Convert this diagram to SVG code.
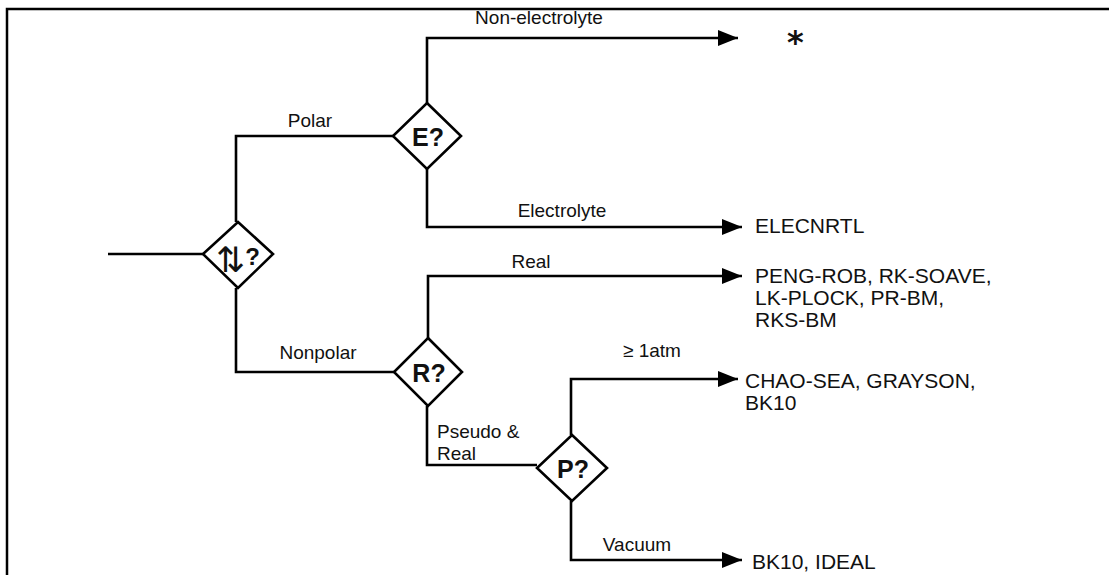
<svg xmlns="http://www.w3.org/2000/svg" width="1109" height="575" viewBox="0 0 1109 575">
<style>
.ln{fill:none;stroke:#000;stroke-width:2.6}
.dm{fill:#fff;stroke:#000;stroke-width:2.6}
.lb{font-family:"Liberation Sans",Arial,sans-serif;font-size:19px;fill:#111}
.out{font-family:"Liberation Sans",Arial,sans-serif;font-size:21px;fill:#111}
.dt{font-family:"Liberation Sans",Arial,sans-serif;font-size:25px;font-weight:bold;fill:#111;text-anchor:middle}
</style>
<defs>
<marker id="ah" markerUnits="userSpaceOnUse" markerWidth="22" markerHeight="18" refX="20" refY="8" orient="auto">
<path d="M0,0 L20,8 L0,16 Z" fill="#000"/>
</marker>
</defs>
<rect width="1109" height="575" fill="#fff"/>
<g id="frame">
<path d="M7,575 V9 H1109" fill="none" stroke="#000" stroke-width="2.5"/>
</g>
<g id="connectors">
<path class="ln" d="M108,254 H203"/>
<path class="ln" d="M236,222 V136 H393"/>
<path class="ln" d="M427,103 V38 H738" marker-end="url(#ah)"/>
<path class="ln" d="M427,169 V227 H742" marker-end="url(#ah)"/>
<path class="ln" d="M236,288 V372 H394"/>
<path class="ln" d="M428,338 V276 H742" marker-end="url(#ah)"/>
<path class="ln" d="M427,406 V465 H537"/>
<path class="ln" d="M571,435 V379 H738" marker-end="url(#ah)"/>
<path class="ln" d="M571,501 V560 H742" marker-end="url(#ah)"/>
</g>
<g id="labels">
<text class="lb" x="310" y="127" text-anchor="middle">Polar</text>
<text class="lb" x="539" y="24" text-anchor="middle">Non-electrolyte</text>
<text class="lb" x="562" y="217" text-anchor="middle">Electrolyte</text>
<text class="lb" x="531" y="268" text-anchor="middle">Real</text>
<text class="lb" x="318" y="359" text-anchor="middle">Nonpolar</text>
<text class="lb" x="437" y="438">Pseudo &amp;</text>
<text class="lb" x="437" y="460">Real</text>
<text class="lb" x="623" y="357">≥ 1atm</text>
<text class="lb" x="637" y="551" text-anchor="middle">Vacuum</text>
</g>
<g id="n-start">
<polygon class="dm" points="238,222 273,254 238,288 203,254"/>
<text x="216" y="272" fill="#111"><tspan font-family="DejaVu Sans,sans-serif" font-size="35">⇅</tspan><tspan font-family="Liberation Sans,Arial,sans-serif" font-size="24" font-weight="bold" dy="-7">?</tspan></text>
</g>
<g id="n-e">
<polygon class="dm" points="427,103 461,136 427,169 393,136"/>
<text class="dt" x="428" y="146">E?</text>
</g>
<g id="n-r">
<polygon class="dm" points="428,338 462,372 428,406 394,372"/>
<text class="dt" x="429" y="382">R?</text>
</g>
<g id="n-p">
<polygon class="dm" points="572,435 607,468 572,501 537,468"/>
<text class="dt" x="573" y="478">P?</text>
</g>
<g id="outputs">
<text x="787" y="53" font-family="DejaVu Sans,sans-serif" font-size="32" font-weight="bold" fill="#111">*</text>
<text class="out" x="755" y="233">ELECNRTL</text>
<text class="out" x="755" y="283">PENG-ROB, RK-SOAVE,</text>
<text class="out" x="755" y="305">LK-PLOCK, PR-BM,</text>
<text class="out" x="755" y="327">RKS-BM</text>
<text class="out" x="745" y="388">CHAO-SEA, GRAYSON,</text>
<text class="out" x="745" y="410">BK10</text>
<text class="out" x="752" y="569">BK10, IDEAL</text>
</g>
</svg>
